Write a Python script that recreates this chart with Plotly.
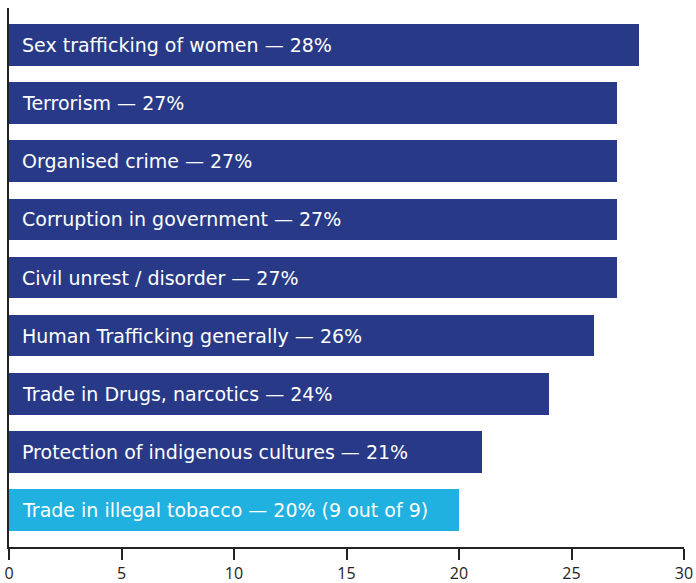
import plotly.graph_objects as go

categories = [
    "Sex trafficking of women",
    "Terrorism",
    "Organised crime",
    "Corruption in government",
    "Civil unrest / disorder",
    "Human Trafficking generally",
    "Trade in Drugs, narcotics",
    "Protection of indigenous cultures",
    "Trade in illegal tobacco",
]
values = [28, 27, 27, 27, 27, 26, 24, 21, 20]
suffixes = ["", "", "", "", "", "", "", "", " (9 out of 9)"]
bar_colors = ["#283a87"] * 8 + ["#21b1e0"]
tick_vals = [0, 5, 10, 15, 20, 25, 30]

LABEL_FONT = "DejaVu Sans, Open Sans, sans-serif"
TICK_FONT = "Open Sans, sans-serif"

fig = go.Figure()
fig.add_trace(go.Bar(
    x=values,
    y=list(range(len(categories))),
    orientation="h",
    marker=dict(color=bar_colors, line=dict(width=0)),
    width=0.72,
    hoverinfo="skip",
))

# Category labels sit inside each bar, anchored at the axis
for i, (c, v, s) in enumerate(zip(categories, values, suffixes)):
    fig.add_annotation(
        x=0, y=i, xref="x", yref="y",
        text=f"{c} — {v}%{s}",
        showarrow=False, xanchor="left", yanchor="middle",
        xshift=11,
        font=dict(family=LABEL_FONT, size=19, color="white"),
    )

fig.update_layout(
    width=696, height=583,
    margin=dict(l=9, r=12, t=8, b=36),
    plot_bgcolor="white", paper_bgcolor="white",
    showlegend=False,
    bargap=0,
    xaxis=dict(
        range=[0, 30], tickvals=tick_vals, showgrid=False, zeroline=False,
        showline=True, linecolor="#222", linewidth=1.5,
        ticks="outside", ticklen=11, tickcolor="#222", tickwidth=1.5,
        tickfont=dict(family=TICK_FONT, size=16, color="#222"),
        automargin=False, fixedrange=True,
    ),
    yaxis=dict(
        range=[8.64, -0.64], showticklabels=False, showgrid=False, zeroline=False,
        showline=True, linecolor="#222", linewidth=1.5, ticks="",
        automargin=False, fixedrange=True,
    ),
)

fig.write_html("out.html")
